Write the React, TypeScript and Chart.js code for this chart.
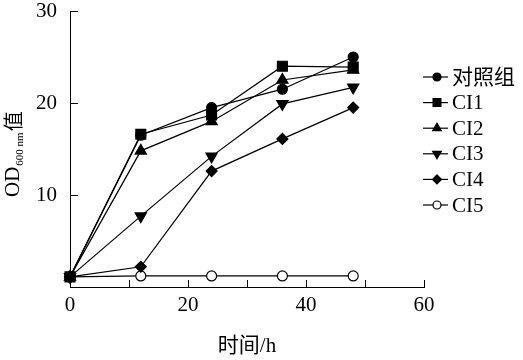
import React, { useEffect, useRef } from "react";
import { Chart, registerables } from "chart.js";

Chart.register(...registerables);

const hours = [0, 12, 24, 36, 48];
const seriesNames = ["对照组", "CI1", "CI2", "CI3", "CI4", "CI5"];
const control = [1.1, 16.5, 19.5, 21.5, 25.0];
const ci1 = [1.1, 16.6, 18.7, 24.0, 23.9];
const ci2 = [1.1, 14.8, 18.0, 22.5, 23.6];
const ci3 = [1.1, 7.7, 14.2, 19.9, 21.7];
const ci4 = [1.1, 2.2, 12.6, 16.1, 19.5];
const ci5 = [1.1, 1.2, 1.2, 1.2, 1.2];
const xTickMarks = [10, 20, 30, 40, 50, 60];
const yTickMarks = [10, 20, 30];
const xTitle = "时间/h";
const yTitleMain = "OD";
const yTitleSub = "600 nm";
const yTitleTail = "值";

const FONT = '"Liberation Serif", "Noto Sans CJK SC", serif';

type Style = { shape: string; radius: number; rotation: number; fill: string; legendR: number };
const styles: Style[] = [
  { shape: "circle", radius: 5, rotation: 0, fill: "#000", legendR: 4 },
  { shape: "rect", radius: 7, rotation: 0, fill: "#000", legendR: 5.5 },
  { shape: "triangle", radius: 6.5, rotation: 0, fill: "#000", legendR: 5 },
  { shape: "triangle", radius: 6.5, rotation: 180, fill: "#000", legendR: 5 },
  { shape: "rectRot", radius: 5.5, rotation: 0, fill: "#000", legendR: 4.5 },
  { shape: "circle", radius: 5, rotation: 0, fill: "#fff", legendR: 4 },
];

function drawMarker(ctx: CanvasRenderingContext2D, s: Style, x: number, y: number) {
  const r = s.legendR;
  ctx.beginPath();
  if (s.shape === "circle") {
    ctx.arc(x, y, r, 0, Math.PI * 2);
  } else if (s.shape === "rect") {
    const h = r * Math.SQRT1_2;
    ctx.rect(x - h, y - h, 2 * h, 2 * h);
  } else if (s.shape === "triangle") {
    const dir = s.rotation === 180 ? -1 : 1;
    ctx.moveTo(x, y - dir * r);
    ctx.lineTo(x + r * 0.866, y + dir * r * 0.5);
    ctx.lineTo(x - r * 0.866, y + dir * r * 0.5);
    ctx.closePath();
  } else if (s.shape === "rectRot") {
    ctx.moveTo(x, y - r);
    ctx.lineTo(x + r, y);
    ctx.lineTo(x, y + r);
    ctx.lineTo(x - r, y);
    ctx.closePath();
  }
  ctx.fillStyle = s.fill;
  ctx.fill();
  ctx.lineWidth = 1.2;
  ctx.strokeStyle = "#000";
  ctx.stroke();
}

const decorPlugin = {
  id: "decor",
  afterDraw(chart: any) {
    const { ctx, chartArea, scales } = chart;
    const xs = scales.x;
    const ys = scales.y;
    ctx.save();
    ctx.strokeStyle = "#000";
    ctx.lineWidth = 1;
    for (const v of xTickMarks) {
      const px = Math.round(xs.getPixelForValue(v)) + 0.5;
      ctx.beginPath();
      ctx.moveTo(px, chartArea.bottom);
      ctx.lineTo(px, chartArea.bottom - 7);
      ctx.stroke();
    }
    for (const v of yTickMarks) {
      const py = Math.round(ys.getPixelForValue(v)) + 0.5;
      ctx.beginPath();
      ctx.moveTo(chartArea.left, py);
      ctx.lineTo(chartArea.left + 8, py);
      ctx.stroke();
    }
    // x title
    ctx.fillStyle = "#000";
    ctx.font = "21px " + FONT;
    ctx.textAlign = "center";
    ctx.textBaseline = "middle";
    ctx.fillText(xTitle, (chartArea.left + chartArea.right) / 2 + 0, 346);
    // y title
    ctx.save();
    ctx.translate(19, 197);
    ctx.rotate(-Math.PI / 2);
    ctx.textAlign = "left";
    ctx.textBaseline = "alphabetic";
    ctx.font = "21px " + FONT;
    ctx.fillText(yTitleMain, 0, 0);
    let w = ctx.measureText(yTitleMain).width;
    ctx.font = "11px " + FONT;
    ctx.fillText(yTitleSub, w + 1, 4);
    w += 1 + ctx.measureText(yTitleSub).width + 1;
    ctx.font = "20px " + FONT;
    ctx.fillText(yTitleTail, w, 2);
    ctx.restore();
    // legend
    ctx.font = "21px " + FONT;
    ctx.textAlign = "left";
    ctx.textBaseline = "middle";
    seriesNames.forEach((name, i) => {
      const y = 77 + i * 25.6;
      ctx.beginPath();
      ctx.lineWidth = 1.2;
      ctx.moveTo(423, y);
      ctx.lineTo(448, y);
      ctx.stroke();
      drawMarker(ctx, styles[i], 437, y);
      ctx.fillStyle = "#000";
      ctx.fillText(name, 452, y + 1);
    });
    ctx.restore();
  },
};

export default function App() {
  const ref = useRef<HTMLCanvasElement | null>(null);
  useEffect(() => {
    if (!ref.current) return;
    const all = [control, ci1, ci2, ci3, ci4, ci5];
    const datasets = all.map((vals, i) => ({
      label: seriesNames[i],
      data: hours.map((h, j) => ({ x: h, y: vals[j] })),
      borderColor: "#000",
      borderWidth: 1.2,
      backgroundColor: styles[i].fill,
      pointBackgroundColor: styles[i].fill,
      pointBorderColor: "#000",
      pointBorderWidth: 1.2,
      pointStyle: styles[i].shape,
      pointRotation: styles[i].rotation,
      pointRadius: styles[i].radius,
      tension: 0,
      clip: false as any,
    }));
    const chart = new Chart(ref.current, {
      type: "line",
      data: { datasets },
      plugins: [decorPlugin],
      options: {
        responsive: false,
        animation: false,
        layout: { padding: { top: 11, right: 99, left: 0, bottom: 0 } },
        plugins: { legend: { display: false }, tooltip: { enabled: false } },
        scales: {
          x: {
            type: "linear",
            min: 0,
            max: 60,
            grid: { display: false, drawTicks: false },
            border: { display: true, color: "#000", width: 1 },
            ticks: {
              stepSize: 20,
              color: "#000",
              padding: 8,
              maxRotation: 0,
              font: { family: FONT, size: 21, lineHeight: 1 },
            },
            afterFit: (s: any) => {
              s.height = 73;
              s.paddingLeft = 0;
              s.paddingRight = 0;
            },
          },
          y: {
            type: "linear",
            min: 0,
            max: 30,
            grid: { display: false, drawTicks: false },
            border: { display: true, color: "#000", width: 1 },
            ticks: {
              stepSize: 10,
              color: "#000",
              padding: 13,
              font: { family: FONT, size: 21, lineHeight: 1 },
              callback: (v: any) => (v === 0 ? "" : String(v)),
            },
            afterFit: (s: any) => {
              s.width = 70;
              s.paddingTop = 0;
              s.paddingBottom = 0;
            },
          },
        },
      },
    });
    return () => chart.destroy();
  }, []);
  return (
    <div style={{ position: "fixed", left: 0, top: 0, width: 523, height: 360, background: "#fff" }}>
      <canvas ref={ref} width={523} height={360} />
    </div>
  );
}
